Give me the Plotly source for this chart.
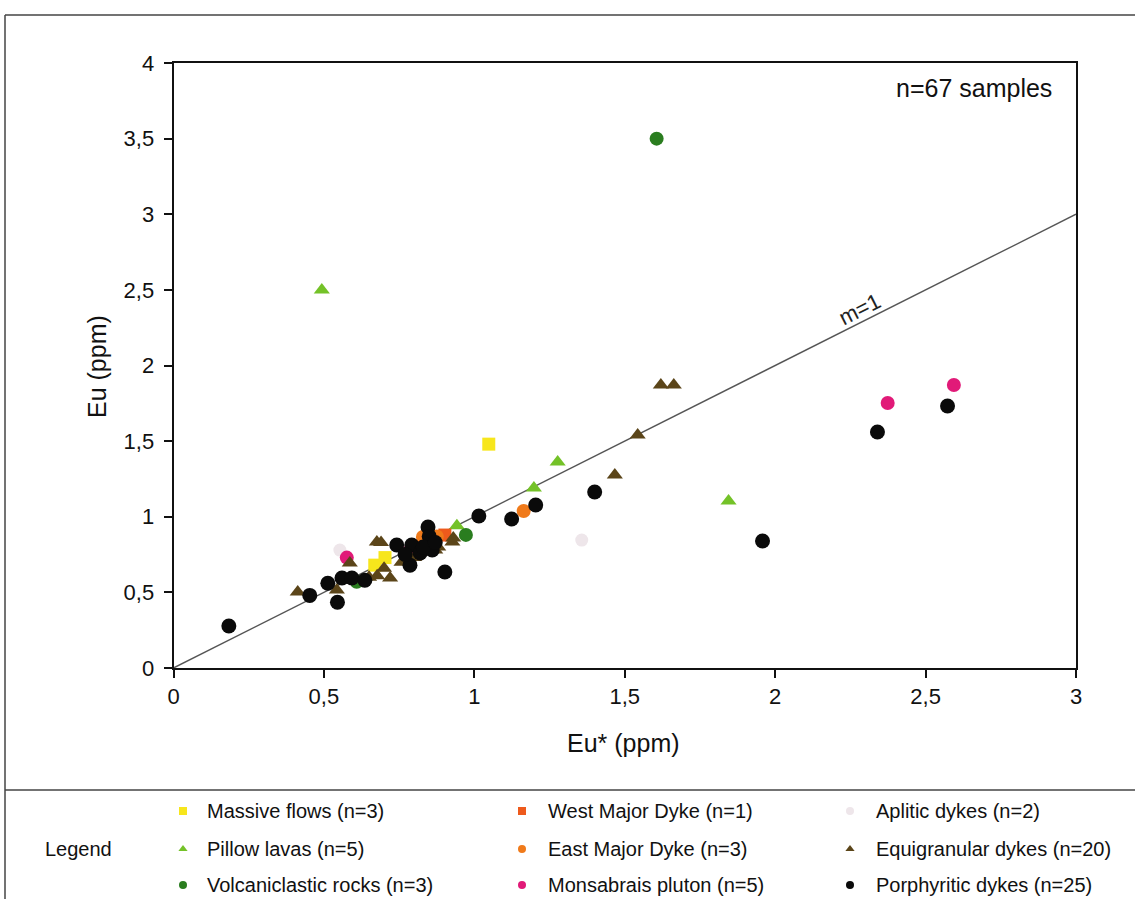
import plotly.graph_objects as go

# ---------------- data (Eu* vs Eu, ppm) ----------------
massive_x = [1.048, 0.669, 0.703]
massive_y = [1.48, 0.68, 0.73]

pillow_x = [0.493, 1.277, 1.198, 1.845, 0.942]
pillow_y = [2.50, 1.362, 1.19, 1.104, 0.94]

volcan_x = [1.606, 0.972, 0.609]
volcan_y = [3.50, 0.88, 0.57]

west_x = [0.902]
west_y = [0.879]

east_x = [1.164, 0.829, 0.875]
east_y = [1.038, 0.866, 0.87]

aplitic_x = [1.357, 0.553]
aplitic_y = [0.846, 0.78]

monsabrais_x = [2.374, 2.594, 0.576, 0.776, 0.83]
monsabrais_y = [1.752, 1.871, 0.73, 0.76, 0.80]

equi_x = [1.62, 1.663, 1.543, 1.467, 0.413, 0.543, 0.586, 0.676, 0.69, 0.72,
          0.677, 0.758, 0.87, 0.927, 0.85, 0.65, 0.80, 0.93, 0.70, 0.88]
equi_y = [1.871, 1.871, 1.54, 1.276, 0.502, 0.516, 0.694, 0.833, 0.83, 0.595,
          0.61, 0.70, 0.78, 0.833, 0.85, 0.60, 0.73, 0.86, 0.66, 0.80]

porph_x = [0.184, 0.453, 0.545, 0.513, 0.56, 0.593, 0.636, 0.742, 0.792, 0.846,
           0.82, 0.86, 0.786, 0.902, 0.85, 1.015, 1.124, 1.204, 1.40, 1.958,
           2.340, 2.573, 0.83, 0.87, 0.77]
porph_y = [0.278, 0.48, 0.435, 0.56, 0.595, 0.595, 0.58, 0.813, 0.813, 0.932,
           0.76, 0.78, 0.68, 0.635, 0.87, 1.005, 0.985, 1.078, 1.164, 0.84,
           1.56, 1.732, 0.80, 0.83, 0.75]

series_names = ["Massive flows (n=3)", "Pillow lavas (n=5)", "Volcaniclastic rocks (n=3)",
                "West Major Dyke (n=1)", "East Major Dyke (n=3)", "Monsabrais pluton (n=5)",
                "Aplitic dykes (n=2)", "Equigranular dykes (n=20)", "Porphyritic dykes (n=25)"]
series_x = [massive_x, pillow_x, volcan_x, west_x, east_x, monsabrais_x, aplitic_x, equi_x, porph_x]
series_y = [massive_y, pillow_y, volcan_y, west_y, east_y, monsabrais_y, aplitic_y, equi_y, porph_y]

x_tickvals = [0, 0.5, 1, 1.5, 2, 2.5, 3]
x_ticktext = ["0", "0,5", "1", "1,5", "2", "2,5", "3"]
y_tickvals = [0, 0.5, 1, 1.5, 2, 2.5, 3, 3.5, 4]
y_ticktext = ["0", "0,5", "1", "1,5", "2", "2,5", "3", "3,5", "4"]

ref_line_x = [0, 3]
ref_line_y = [0, 3]

# ---------------- styles ----------------
colors = ["#f7e61c", "#74c228", "#2a7d1f", "#ee5a1c", "#f07a1a", "#e11a78",
          "#eee6ea", "#5b4519", "#0a0a0a"]
symbols = ["square", "triangle-up", "circle", "square", "circle", "circle",
           "circle", "triangle-up", "circle"]
sizes = [13, 14, 14, 13, 14, 14, 13, 14, 15]
draw_order = [6, 0, 1, 2, 3, 4, 5, 7, 8]

W, H = 1135, 899
FONT = "Liberation Sans, Arial, sans-serif"


def pxx(p):
    return p / W


def pxy(p):
    return 1 - p / H


fig = go.Figure()

fig.add_trace(go.Scatter(x=ref_line_x, y=ref_line_y, mode="lines",
                         line=dict(color="#555555", width=1.4),
                         showlegend=False, hoverinfo="skip"))

for i in draw_order:
    fig.add_trace(go.Scatter(
        x=series_x[i], y=series_y[i], mode="markers", name=series_names[i],
        marker=dict(color=colors[i], symbol=symbols[i], size=sizes[i], line=dict(width=0)),
        showlegend=False))

# ---------------- custom legend (bottom panel) ----------------
legend_cols_marker = [183, 522, 850]
legend_cols_text = [205, 546, 874]
legend_rows = [811, 849, 885]
legend_grid = [(0, 0), (1, 0), (2, 0), (0, 1), (1, 1), (2, 1), (0, 2), (1, 2), (2, 2)]
legend_series = [0, 1, 2, 3, 4, 5, 6, 7, 8]

annotations = []
for slot, si in enumerate(legend_series):
    r, c = legend_grid[slot]
    fig.add_trace(go.Scatter(
        x=[legend_cols_marker[c]], y=[legend_rows[r]], mode="markers",
        marker=dict(color=colors[si], symbol=symbols[si], size=8, line=dict(width=0)),
        xaxis="x2", yaxis="y2", showlegend=False, hoverinfo="skip"))
    annotations.append(dict(x=pxx(legend_cols_text[c]), y=pxy(legend_rows[r]),
                            xref="paper", yref="paper", xanchor="left", yanchor="middle",
                            text=series_names[si], showarrow=False,
                            font=dict(size=20, color="#111111", family=FONT)))

annotations.append(dict(x=pxx(78), y=pxy(849), xref="paper", yref="paper",
                        xanchor="center", yanchor="middle", text="Legend", showarrow=False,
                        font=dict(size=20, color="#111111", family=FONT)))

# axis titles
annotations.append(dict(x=pxx(623), y=pxy(743), xref="paper", yref="paper",
                        xanchor="center", yanchor="middle", text="Eu* (ppm)", showarrow=False,
                        font=dict(size=25, color="#111111", family=FONT)))
annotations.append(dict(x=pxx(97), y=pxy(367), xref="paper", yref="paper",
                        xanchor="center", yanchor="middle", text="Eu (ppm)", showarrow=False,
                        textangle=-90, font=dict(size=25, color="#111111", family=FONT)))
# sample count
annotations.append(dict(x=pxx(974), y=pxy(88), xref="paper", yref="paper",
                        xanchor="center", yanchor="middle", text="n=67 samples", showarrow=False,
                        font=dict(size=25, color="#111111", family=FONT)))
# line label
annotations.append(dict(x=2.28, y=2.37, xref="x", yref="y", xanchor="center",
                        yanchor="middle", text="m=1", showarrow=False, textangle=-26.7,
                        font=dict(size=22, color="#222222", family=FONT)))

# outer frame shapes
frame = dict(color="#444444", width=1.5)
shapes = [
    dict(type="line", xref="paper", yref="paper", x0=pxx(5), x1=1, y0=pxy(15), y1=pxy(15), line=frame),
    dict(type="line", xref="paper", yref="paper", x0=pxx(5), x1=pxx(5), y0=pxy(15), y1=0, line=frame),
    dict(type="line", xref="paper", yref="paper", x0=pxx(5), x1=1, y0=pxy(790), y1=pxy(790), line=frame),
]

fig.update_layout(
    template="none",
    width=W, height=H, autosize=False,
    margin=dict(l=0, r=0, t=0, b=0, pad=0, autoexpand=False),
    paper_bgcolor="white", plot_bgcolor="white",
    font=dict(family=FONT, color="#111111"),
    xaxis=dict(domain=[pxx(173.5), pxx(1076)], range=[0, 3], tickmode="array",
               tickvals=x_tickvals, ticktext=x_ticktext, ticks="outside", ticklen=8,
               tickwidth=1.5, tickcolor="#111111", showgrid=False, zeroline=False,
               showline=True, linecolor="#111111", linewidth=1.8, mirror=True,
               automargin=False,
               tickfont=dict(size=22, family=FONT, color="#111111"), anchor="y"),
    yaxis=dict(domain=[pxy(668), pxy(63)], range=[0, 4], tickmode="array",
               tickvals=y_tickvals, ticktext=y_ticktext, ticks="outside", ticklen=8,
               tickwidth=1.5, tickcolor="#111111", showgrid=False, zeroline=False,
               showline=True, linecolor="#111111", linewidth=1.8, mirror=True,
               automargin=False, ticklabelstandoff=5,
               tickfont=dict(size=22, family=FONT, color="#111111"), anchor="x"),
    xaxis2=dict(domain=[0, 1], range=[0, W], visible=False, anchor="y2",
                fixedrange=True, automargin=False),
    yaxis2=dict(domain=[0, pxy(790)], range=[H, 790], visible=False, anchor="x2",
                fixedrange=True, automargin=False),
    annotations=annotations,
    shapes=shapes,
    showlegend=False,
)

fig.write_html("out.html", config={"displayModeBar": False},
               post_script="document.body.style.margin='0px';")
